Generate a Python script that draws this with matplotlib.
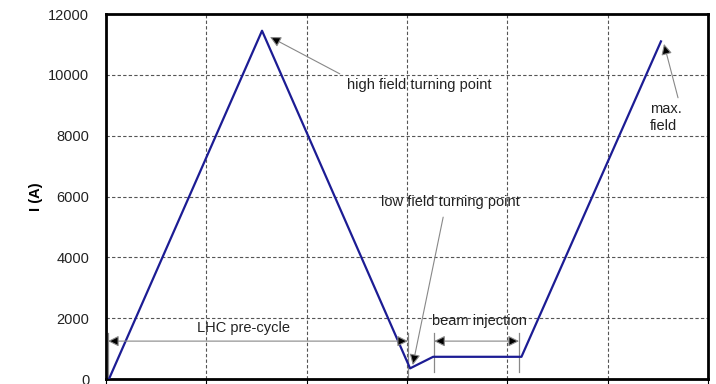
import matplotlib.pyplot as plt

plt.rcParams['font.family'] = ['Liberation Sans', 'DejaVu Sans']

# current cycle: pre-cycle, injection plateau, ramp
t = [0.03, 1.555, 3.03, 3.26, 4.14, 5.53]
current = [0, 11450, 350, 730, 730, 11100]

yticks = [0, 2000, 4000, 6000, 8000, 10000, 12000]
xticks = [0, 1, 2, 3, 4, 5, 6]

fig = plt.figure(figsize=(7.16, 3.84), dpi=100)
ax = fig.add_axes([0.148, 0.013, 0.841, 0.9505])

ax.plot(t, current, color='#1c1c94', lw=1.6, zorder=3)

ax.set_xlim(0, 6)
ax.set_ylim(0, 12000)
ax.set_xticks(xticks)
ax.set_xticklabels([])
ax.set_yticks(yticks)
ax.tick_params(axis='y', length=0, pad=12, labelsize=10.5, colors='#222222')
ax.tick_params(axis='x', length=5, width=0.8, direction='out')
ax.grid(True, color='#555555', lw=0.8, ls=(0, (3, 2)))
for s in ax.spines.values():
    s.set_linewidth(2)
ax.set_ylabel('I (A)', fontweight='bold', fontsize=10.5)
ax.yaxis.set_label_coords(-0.105, 0.5)

arrow = dict(arrowstyle='-|>', fc='black', ec='#888888', lw=0.8,
             mutation_scale=16, shrinkA=0, shrinkB=0)
both = dict(arrowprops=dict(arrowstyle='<|-|>', fc='black', ec='#888888',
                            lw=0.8, mutation_scale=16, shrinkA=0, shrinkB=0))

# turning points and max field
ax.annotate('', xy=(1.635, 11246), xytext=(2.33, 10033), arrowprops=arrow)
ax.text(2.40, 9672, 'high field turning point', ha='left', va='center',
        fontsize=10.5, color='#222222')

ax.annotate('', xy=(5.56, 11017), xytext=(5.70, 9246), arrowprops=arrow)
ax.text(5.42, 8590, 'max.\nfield', ha='left', va='center', fontsize=10.5,
        color='#222222', linespacing=1.3)

ax.annotate('', xy=(3.057, 459), xytext=(3.36, 5322), arrowprops=arrow)
ax.text(3.43, 5814, 'low field turning point', ha='center', va='center',
        fontsize=10.5, color='#222222')

# pre-cycle span
ax.plot([0.02, 0.02], [0, 1508], color='#888888', lw=0.9)
ax.plot([3.01, 3.01], [0, 1508], color='#888888', lw=0.9)
ax.annotate('', xy=(0.02, 1246), xytext=(3.01, 1246), **both)
ax.text(1.375, 1672, 'LHC pre-cycle', ha='center', va='center',
        fontsize=10.5, color='#222222')

# injection plateau span
ax.plot([3.27, 3.27], [240, 1508], color='#888888', lw=0.9)
ax.plot([4.116, 4.116], [240, 1508], color='#888888', lw=0.9)
ax.annotate('', xy=(3.27, 1246), xytext=(4.116, 1246), **both)
ax.text(3.72, 1902, 'beam injection', ha='center', va='center',
        fontsize=10.5, color='#222222')

fig.savefig('out.png', dpi=100)
